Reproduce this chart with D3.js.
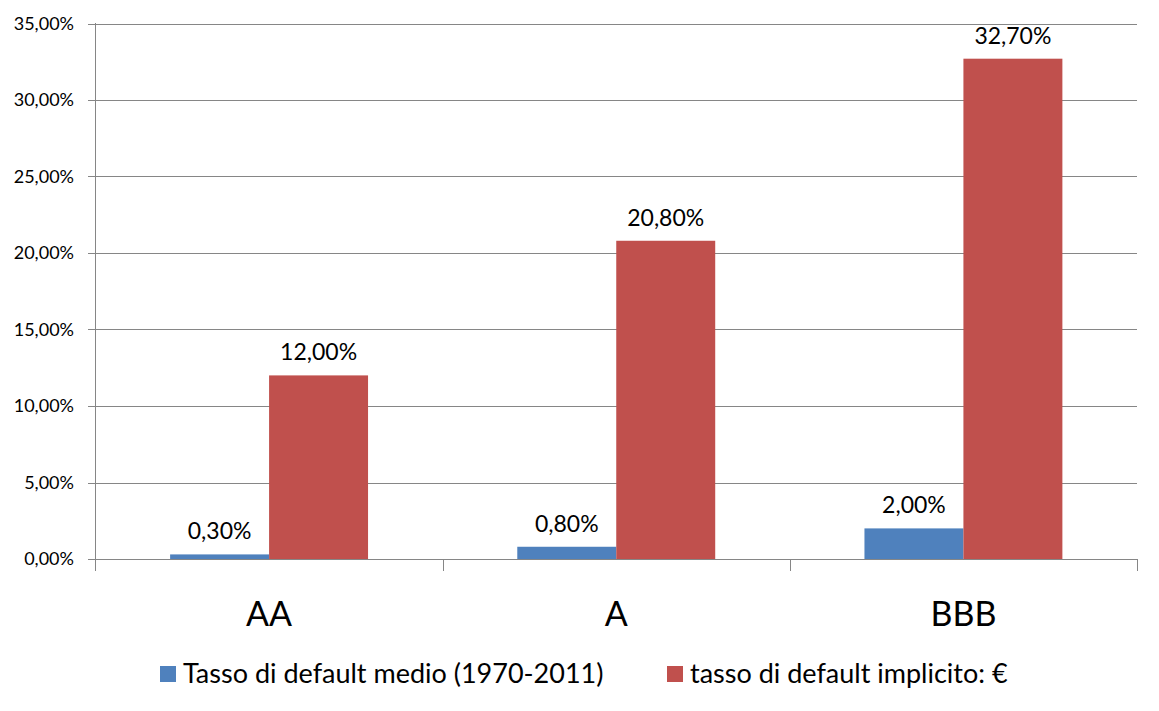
<!DOCTYPE html>
<html><head><meta charset="utf-8">
<script src="https://cdn.jsdelivr.net/npm/d3@7"></script>
<style>body{margin:0;background:#fff}svg{display:block}text{font-family:Lato,"Open Sans",sans-serif;fill:#000}</style>
</head><body>
<script>
const categories = ["AA", "A", "BBB"];
const seriesNames = ["Tasso di default medio (1970-2011)", "tasso di default implicito: €"];
const seriesAvg = [0.30, 0.80, 2.00];
const seriesImplicit = [12.00, 20.80, 32.70];
const yTicks = [0, 5, 10, 15, 20, 25, 30, 35];
const colors = ["#4F81BD", "#C0504D"];

const W = 1159, H = 711;
const svg = d3.select("body").append("svg").attr("width", W).attr("height", H);

const fmt = v => d3.format(".2f")(v).replace(".", ",") + "%";

const x0 = d3.scaleBand().domain(categories).range([95.5, 1137]).padding(0);
const x1 = d3.scaleBand().domain([0, 1]).range([0, x0.bandwidth()]).paddingInner(0).paddingOuter(0.754);
const y = d3.scaleLinear().domain([0, 35]).range([559, 23.5]);

// gridlines
const gridG = svg.append("g");
gridG.selectAll("line").data(yTicks).join("line")
  .attr("x1", 88).attr("x2", 1137)
  .attr("y1", d => Math.round(y(d)) + 0.5).attr("y2", d => Math.round(y(d)) + 0.5)
  .attr("stroke", "#868686").attr("stroke-width", 1);

// y axis
const yAxis = d3.axisLeft(y).tickValues(yTicks).tickSize(0).tickPadding(14).tickFormat(fmt);
const yg = svg.append("g").attr("transform", "translate(88,0)").call(yAxis);
yg.select(".domain").remove();
yg.selectAll("text").style("font-family", "Lato").style("font-size", "18px").attr("fill", "#000");

svg.append("line").attr("x1", 95.5).attr("x2", 95.5).attr("y1", 23).attr("y2", 571)
  .attr("stroke", "#868686");

// x axis
const xAxis = d3.axisBottom(x0).tickSize(0).tickPadding(0);
const xg = svg.append("g").attr("transform", "translate(0,559)").call(xAxis);
xg.select(".domain").remove();
xg.selectAll("text").attr("dy", null).attr("y", 67).style("font-family", "Lato").style("font-size", "34px").attr("fill", "#000");
const boundaries = categories.map(c => x0(c) + x0.bandwidth());
svg.append("g").selectAll("line").data(boundaries).join("line")
  .attr("x1", d => Math.round(d) + 0.5).attr("x2", d => Math.round(d) + 0.5)
  .attr("y1", 559).attr("y2", 571).attr("stroke", "#868686");

// bars
const data = categories.map((c, i) => ({cat: c, vals: [seriesAvg[i], seriesImplicit[i]]}));
const groups = svg.append("g").selectAll("g").data(data).join("g")
  .attr("transform", d => `translate(${x0(d.cat)},0)`);
groups.selectAll("rect").data(d => d.vals.map((v, k) => ({v, k}))).join("rect")
  .attr("x", d => x1(d.k)).attr("width", x1.bandwidth())
  .attr("y", d => y(d.v)).attr("height", d => y(0) - y(d.v))
  .attr("fill", d => colors[d.k]);
groups.selectAll("text.lbl").data(d => d.vals.map((v, k) => ({v, k}))).join("text")
  .attr("class", "lbl")
  .attr("x", d => x1(d.k) + x1.bandwidth() / 2)
  .attr("y", d => y(d.v) - 15)
  .attr("text-anchor", "middle")
  .style("font-size", "23px")
  .text(d => fmt(d.v));

// legend
const legendX = [160, 667];
const lg = svg.append("g").selectAll("g").data(seriesNames).join("g")
  .attr("transform", (d, i) => `translate(${legendX[i]},666)`);
lg.append("rect").attr("width", 16).attr("height", 16).attr("fill", (d, i) => colors[i]);
lg.append("text").attr("x", 23).attr("y", 17).style("font-size", "27px").text(d => d);
</script>
</body></html>
